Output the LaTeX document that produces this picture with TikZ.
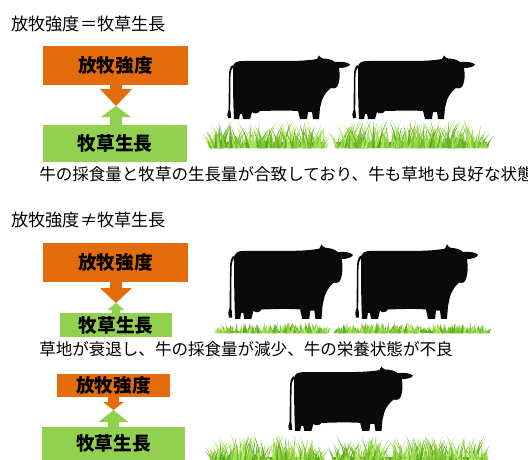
\documentclass[tikz,border=0pt]{standalone}
\usepackage{fontspec}
\setmainfont{Noto Sans CJK JP}
\usetikzlibrary{calc}

\definecolor{graze}{HTML}{E46C0A}
\definecolor{pasture}{HTML}{92D050}
\definecolor{grassdark}{HTML}{52A514}
\definecolor{grasslight}{HTML}{BDF06A}
\definecolor{hide}{HTML}{0A0A0A}

\tikzset{
  box/.style={inner sep=0pt, outer sep=0pt, text=black, font=\bfseries\fontsize{14}{16}\selectfont},
  heading/.style={anchor=west, inner sep=0pt, font=\fontsize{12.9}{15}\selectfont},
  remark/.style={anchor=west, inner sep=0pt, font=\fontsize{12.4}{15}\selectfont},
}

\newcommand\BlockArrow[6]{%
  \fill[#1] let \p1=(#2), \p2=(#3), \n1={#6*(\y1-\y2)/abs(\y1-\y2)} in
    (\x2-#4,\y1) -- (\x2-#4,\y2+\n1) -- (\x2-#5,\y2+\n1) -- (\p2)
    -- (\x2+#5,\y2+\n1) -- (\x2+#4,\y2+\n1) -- (\x2+#4,\y1) -- cycle;}

\newcommand\Cow[4]{%
  \begin{scope}[shift={(#1,#2)}, xscale=#3/123, yscale=#4/64]
    \fill[hide] (6,12) .. controls (6,6) and (10,5) .. (17,5)
      -- (60,5) .. controls (75,5) and (85,4) .. (90,3)
      -- (92,-0.5) .. controls (93,1) and (94,2) .. (96,2.5)
      .. controls (100,2.5) and (105,3.5) .. (108,6)
      .. controls (114,5.5) and (121,6) .. (123,8.5)
      .. controls (122,11) and (116,12) .. (112,12)
      .. controls (113,18) and (113,24) .. (111,29)
      .. controls (110,32) and (107,33) .. (104,32)
      .. controls (100,35) and (97,39) .. (95,44)
      -- (93,52) -- (92,63) -- (86,63) -- (85,56)
      -- (81,56) -- (80,63) -- (73,63)
      -- (71,55) .. controls (55,54) and (40,55) .. (33,55)
      .. controls (31,58) and (27,58) .. (25,56)
      -- (23,63) -- (16,63) -- (15,58) -- (13,58) -- (12,63) -- (7,63)
      .. controls (6,45) and (6,25) .. cycle;
    \fill[hide] (6,9) .. controls (3,10) and (2,14) .. (2,20) -- (1.5,54)
      .. controls (0,57) and (0,60) .. (1,62) -- (4,62)
      .. controls (4.5,59) and (3.5,56) .. (3.2,54) -- (3.5,20)
      .. controls (3.5,15) and (5,12) .. (6.5,11) -- cycle;
  \end{scope}}

\newcommand\Grass[4]{%
  \pgfmathsetseed{#1}
  \pgfmathtruncatemacro\nblades{(#2-#1)*1.4}
  \fill[grassdark] (#1+3,#3) rectangle (#2-3,#3-0.2*#4);
  \foreach \i in {1,...,\nblades} {
    \pgfmathsetmacro\bx{#1+2+rnd*(#2-#1-4)}
    \pgfmathsetmacro\edge{min(1,min(\bx-#1,#2-\bx)/15)}
    \pgfmathsetmacro\bh{#4*(0.35+0.65*rnd)*(0.45+0.55*\edge)}
    \pgfmathsetmacro\tx{\bx+(rnd-0.5)*0.7*#4}
    \pgfmathsetmacro\cl{\bx-0.5+0.3*(\tx-\bx)}
    \pgfmathsetmacro\cr{\bx+0.5+0.3*(\tx-\bx)}
    \pgfmathtruncatemacro\bc{rnd*100}
    \fill[grassdark!\bc!grasslight] (\bx-1.3,#3) .. controls (\cl,#3-0.55*\bh) .. (\tx,#3-\bh)
      .. controls (\cr,#3-0.55*\bh) .. (\bx+1.3,#3) -- cycle;
  }}

\begin{document}
\begin{tikzpicture}[x=0.75pt, y=-0.75pt]
\useasboundingbox (0,0) rectangle (528,460);

\node[heading] (h1) at (11,24) {放牧強度＝牧草生長};
\node[box, fill=graze, minimum width=108.75pt, minimum height=29.25pt] (o1) at (115.5,65.5) {放牧強度};
\node[box, fill=pasture, minimum width=108pt, minimum height=27.75pt] (g1) at (115,143.5) {牧草生長};
\coordinate (t1) at (116,106);
\BlockArrow{graze}{o1.south}{t1}{4.5pt}{12pt}{12.75}
\BlockArrow{pasture}{g1.north}{t1}{4.5pt}{11.25pt}{8.25}
\node[remark] (r1) at (39,174) {牛の採食量と牧草の生長量が合致しており、牛も草地も良好な状態};
\Cow{227}{56}{123}{64}
\Cow{352}{56}{123}{64}
\Grass{207}{328}{148}{28}
\Grass{332}{490}{148}{28}

\node[heading] (h2) at (11,220.5) {放牧強度≠牧草生長};
\node[box, fill=graze, minimum width=108.75pt, minimum height=29.25pt] (o2) at (115.5,262.5) {放牧強度};
\node[box, fill=pasture, minimum width=84pt, minimum height=18pt] (g2) at (116,325) {牧草生長};
\coordinate (t2) at (116,303);
\BlockArrow{graze}{o2.south}{t2}{4.5pt}{12pt}{11.25}
\BlockArrow{pasture}{g2.north}{t2}{3pt}{6.4pt}{5.25}
\node[remark] (r2) at (39,349) {草地が衰退し、牛の採食量が減少、牛の栄養状態が不良};
\Cow{228}{245}{125}{75}
\Cow{355}{245}{123}{75}
\Grass{213}{330}{333}{11}
\Grass{333}{492}{333}{11}

\node[box, fill=graze, minimum width=84.75pt, minimum height=17.25pt] (o3) at (113.5,385.5) {放牧強度};
\node[box, fill=pasture, minimum width=107.25pt, minimum height=24.75pt] (g3) at (113.5,443.5) {牧草生長};
\coordinate (t3) at (113.5,410);
\BlockArrow{graze}{o3.south}{t3}{4.1pt}{7.9pt}{6}
\BlockArrow{pasture}{g3.north}{t3}{4.1pt}{11.25pt}{9}
\Cow{288}{367}{125}{65}
\Grass{208}{327}{463}{28}
\Grass{330}{490}{463}{28}
\end{tikzpicture}
\end{document}
